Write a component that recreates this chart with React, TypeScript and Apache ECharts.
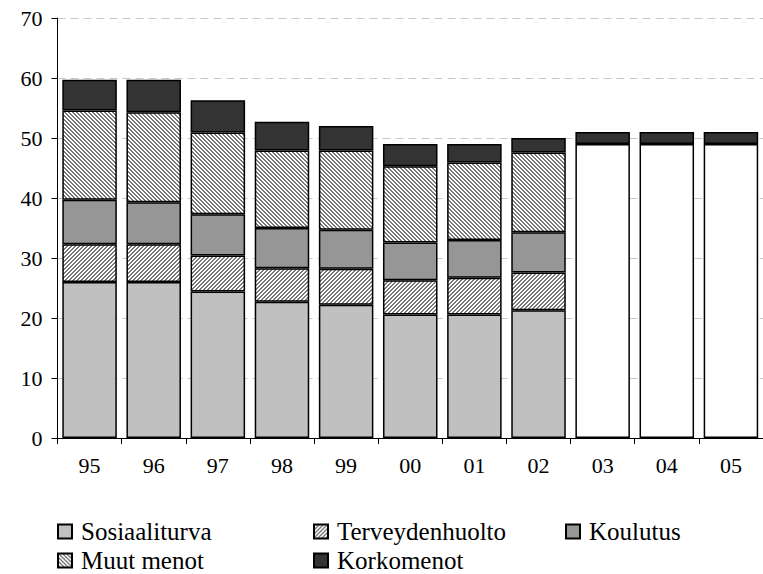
import React, { useEffect, useRef } from 'react';
import * as echarts from 'echarts';

const categories = ['95', '96', '97', '98', '99', '00', '01', '02', '03', '04', '05'];
const sosiaaliturva = [26.0, 26.0, 24.4, 22.7, 22.2, 20.6, 20.6, 21.3, null, null, null];
const terveydenhuolto = [6.3, 6.3, 6.0, 5.6, 6.0, 5.7, 6.1, 6.3, null, null, null];
const koulutus = [7.4, 7.0, 6.9, 6.7, 6.5, 6.3, 6.3, 6.7, null, null, null];
const muutMenot = [14.9, 15.0, 13.6, 12.9, 13.2, 12.7, 12.9, 13.3, null, null, null];
const ennuste = [null, null, null, null, null, null, null, null, 49.0, 49.0, 49.0];
const korkomenot = [5.1, 5.4, 5.4, 4.8, 4.1, 3.7, 3.1, 2.4, 2.0, 2.0, 2.0];

const Y_MIN = 0;
const Y_MAX = 70;
const Y_STEP = 10;

const FONT = 'Liberation Serif, Times New Roman, serif';

function makeHatch(dir: 'up' | 'down') {
  const size = 4;
  const c = document.createElement('canvas');
  c.width = size;
  c.height = size;
  const ctx = c.getContext('2d')!;
  ctx.fillStyle = '#ffffff';
  ctx.fillRect(0, 0, size, size);
  ctx.fillStyle = '#7a7a7a';
  for (let y = 0; y < size; y++) {
    for (let x = 0; x < size; x++) {
      const k = dir === 'up' ? (x + y) % size : (x - y + size) % size;
      if (k === 0 || k === 1) ctx.fillRect(x, y, 1, 1);
    }
  }
  return { image: c, repeat: 'repeat', imageWidth: size, imageHeight: size } as any;
}

export default function App() {
  const ref = useRef<HTMLDivElement>(null);
  useEffect(() => {
    if (!ref.current) return;
    const chart = echarts.init(ref.current, null, { renderer: 'svg' });
    const border = { borderColor: '#000', borderWidth: 1.5 };
    const legendBase = {
      icon: 'rect',
      itemWidth: 14,
      itemHeight: 14,
      padding: 0,
      itemGap: 0,
      selectedMode: false,
      textStyle: { fontFamily: FONT, fontSize: 25, color: '#000', padding: [0, 0, 0, 4] },
    };
    const row1 = 519;
    const row2 = 548;
    const mk = (name: string, data: any[], color: any) => ({
      name,
      type: 'bar',
      stack: 'total',
      data,
      barCategoryGap: '15%',
      itemStyle: { color, ...border },
      emphasis: { disabled: true },
    });
    chart.setOption({
      animation: false,
      textStyle: { fontFamily: FONT },
      grid: { left: 57.5, right: -7.3, top: 18, bottom: 136, containLabel: false },
      legend: [
        { ...legendBase, data: ['Sosiaaliturva'], left: 57, top: row1 },
        { ...legendBase, data: ['Terveydenhuolto'], left: 313, top: row1 },
        { ...legendBase, data: ['Koulutus'], left: 565, top: row1 },
        { ...legendBase, data: ['Muut menot'], left: 57, top: row2 },
        { ...legendBase, data: ['Korkomenot'], left: 313, top: row2 },
      ],
      xAxis: {
        type: 'category',
        data: categories,
        boundaryGap: true,
        axisLine: { show: true, lineStyle: { color: '#000', width: 1 } },
        axisTick: { show: true, length: 6, lineStyle: { color: '#000' } },
        axisLabel: { fontFamily: FONT, fontSize: 22, color: '#000', margin: 16 },
      },
      yAxis: {
        type: 'value',
        min: Y_MIN,
        max: Y_MAX,
        interval: Y_STEP,
        axisLine: { show: true, lineStyle: { color: '#000', width: 1 } },
        axisTick: { show: true, length: 6, lineStyle: { color: '#000' } },
        axisLabel: { fontFamily: FONT, fontSize: 22, color: '#000', margin: 15 },
        splitLine: { show: true, lineStyle: { color: '#c8c8c8', width: 1, type: [8, 5] } },
      },
      series: [
        mk('Sosiaaliturva', sosiaaliturva, '#c0c0c0'),
        mk('Terveydenhuolto', terveydenhuolto, makeHatch('up')),
        mk('Koulutus', koulutus, '#969696'),
        mk('Muut menot', muutMenot, makeHatch('down')),
        mk('Ennuste', ennuste, '#ffffff'),
        mk('Korkomenot', korkomenot, '#333333'),
      ],
    });
    return () => chart.dispose();
  }, []);
  return (
    <div
      ref={ref}
      style={{ position: 'fixed', left: 0, top: 0, width: 763, height: 574, background: '#fff' }}
    />
  );
}
